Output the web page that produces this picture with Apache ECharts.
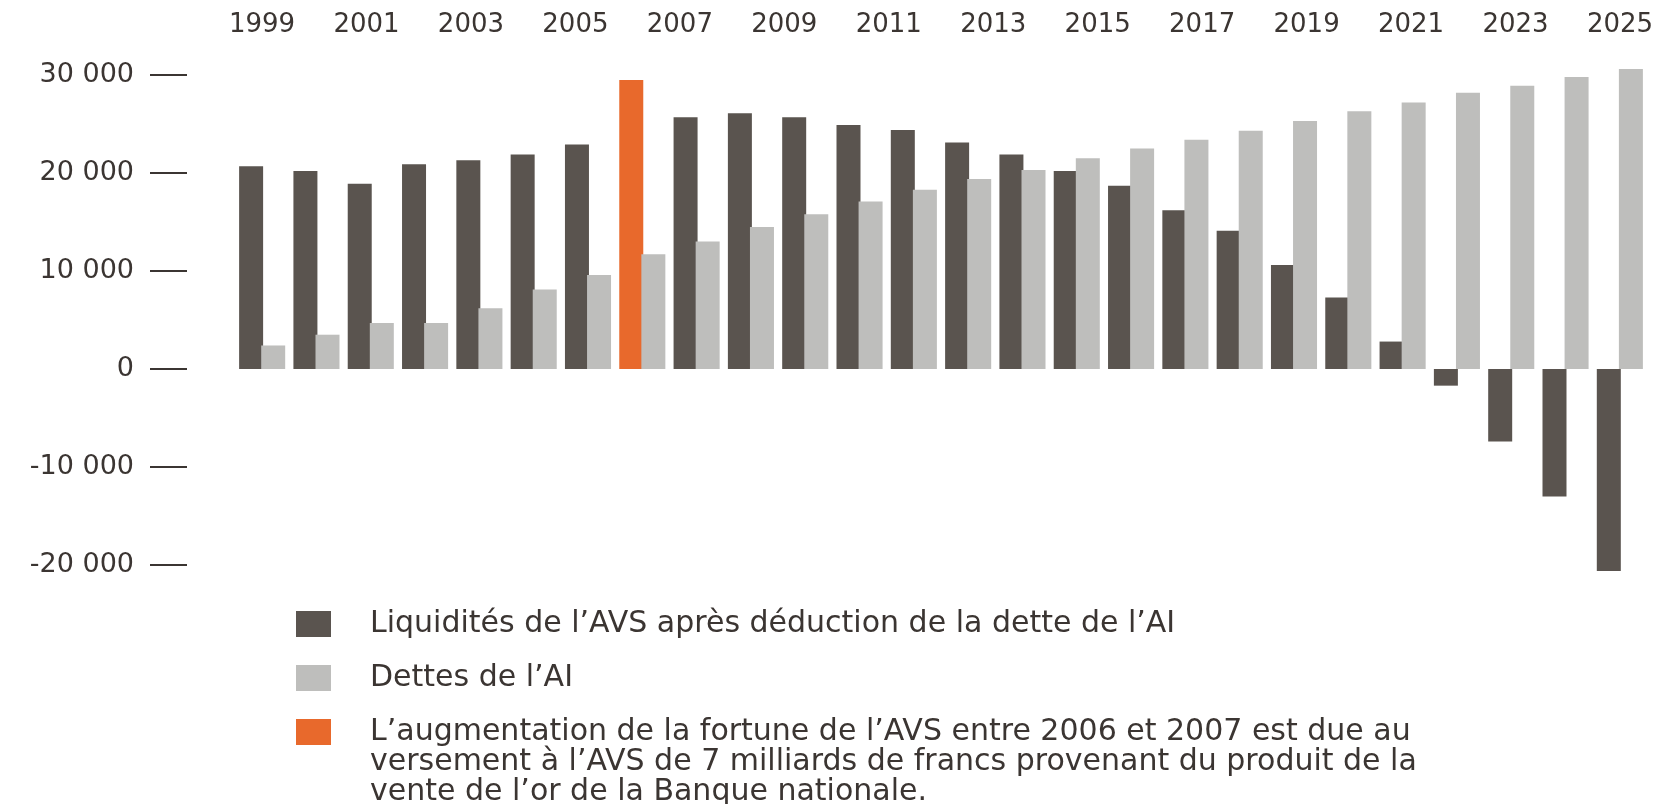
<!DOCTYPE html>
<html>
<head>
<meta charset="utf-8">
<title>Liquidités de l'AVS et dettes de l'AI</title>
<script src="https://cdn.jsdelivr.net/npm/echarts@6/dist/echarts.min.js"></script>
<style>
    html, body { margin: 0; padding: 0; background: #fff; }
    #chart { width: 1665px; height: 804px; }
</style>
</head>
<body>
<div id="chart"></div>
<script>
// une paire de barres par année
var annees = [2000, 2001, 2002, 2003, 2004, 2005, 2006, 2007, 2008, 2009, 2010, 2011, 2012,
    2013, 2014, 2015, 2016, 2017, 2018, 2019, 2020, 2021, 2022, 2023, 2024, 2025];
// étiquettes affichées en haut
var etiquettesAnnees = ['1999', '2001', '2003', '2005', '2007', '2009', '2011', '2013',
    '2015', '2017', '2019', '2021', '2023', '2025'];
// liquidités de l'AVS après déduction de la dette de l'AI (mio de francs)
var liquidites = [20700, 20200, 18900, 20900, 21300, 21900, 22900, 29500, 25700, 26100, 25700, 24900, 24400,
    23100, 21900, 20200, 18700, 16200, 14100, 10600, 7300, 2800, -1700, -7400, -13000, -20600];
// dettes de l'AI
var dettesAI = [2400, 3500, 4700, 4700, 6200, 8100, 9600, 11700, 13000, 14500, 15800, 17100, 18300,
    19400, 20300, 21500, 22500, 23400, 24300, 25300, 26300, 27200, 28200, 28900, 29800, 30600];
// année du versement de l'or de la BNS (barre orange)
var anneeOr = 2007;
// axe vertical
var yMin = -20000, yMax = 30000, yPas = 10000;

var nomLiq = 'Liquidités de l’AVS après déduction de la dette de l’AI';
var nomDettes = 'Dettes de l’AI';
var nomOr = 'L’augmentation de la fortune de l’AVS entre 2006 et 2007 est due au\n' +
    'versement à l’AVS de 7 milliards de francs provenant du produit de la\n' +
    'vente de l’or de la Banque nationale.';

var couleurFonce = '#5a544f';
var couleurClair = '#bebebc';
var couleurOrange = '#e8692c';
var couleurTexte = '#3b3532';
var police = 'DejaVu Sans';

// la barre orange remplace la barre foncée de l'année du versement
var dataFonce = liquidites.map(function(v, i) { return annees[i] === anneeOr ? '-' : v; });
var dataOrange = liquidites.map(function(v, i) { return annees[i] === anneeOr ? v : '-'; });

function milliers(v) {
    return String(v).replace(/\B(?=(\d{3})+(?!\d))/g, ' ');
}

var legendeCommun = {
    orient: 'vertical',
    left: 296,
    padding: 0,
    itemWidth: 35,
    itemHeight: 26,
    icon: 'rect'
};
var styleLigne = {
    fontFamily: police,
    fontSize: 30,
    lineHeight: 30,
    color: couleurTexte
};

var myChart = echarts.init(document.getElementById('chart'));
var option = {
    animation: false,
    backgroundColor: '#fff',
    grid: [{
        left: 235, top: 75, width: 1412, height: 490, outerBoundsMode: 'none'
    }, {
        // grille des étiquettes d'années en haut
        left: 262, top: 25, width: 1358, height: 1, outerBoundsMode: 'none'
    }],
    xAxis: [{
        gridIndex: 0,
        type: 'category',
        data: annees,
        show: false
    }, {
        gridIndex: 1,
        type: 'category',
        data: etiquettesAnnees,
        boundaryGap: false,
        position: 'top',
        axisLine: { show: false },
        axisTick: { show: false },
        axisLabel: {
            interval: 0,
            margin: 0,
            verticalAlign: 'middle',
            fontFamily: police,
            fontSize: 26,
            color: couleurTexte
        }
    }],
    yAxis: [{
        gridIndex: 0,
        type: 'value',
        min: yMin,
        max: yMax,
        interval: yPas,
        offset: 48,
        axisLine: { show: false },
        axisTick: { show: true, length: 37, lineStyle: { color: couleurTexte, width: 2 } },
        splitLine: { show: false },
        axisLabel: {
            margin: 53,
            fontFamily: police,
            fontSize: 27,
            color: couleurTexte,
            formatter: milliers
        }
    }, {
        gridIndex: 1,
        type: 'value',
        show: false
    }],
    legend: [
        echarts.util.extend({
            top: 609,
            itemGap: 24,
            textStyle: echarts.util.extend({ padding: [0, 0, 0, 34] }, styleLigne),
            data: [nomLiq, nomDettes]
        }, legendeCommun),
        // texte sur 3 lignes (texte riche) : le padding du haut aligne la 1re ligne sur le carré
        echarts.util.extend({
            top: 717,
            height: 200,
            itemGap: 0,
            formatter: function(name) {
                return name.split('\n').map(function(l) { return '{t|' + l + '}'; }).join('\n');
            },
            textStyle: {
                padding: [60, 0, 0, 34],
                rich: { t: styleLigne }
            },
            data: [nomOr]
        }, legendeCommun)
    ],
    series: [{
        name: nomLiq,
        type: 'bar',
        stack: 'liq',
        barWidth: 24,
        barGap: '-8%',
        clip: false,
        itemStyle: { color: couleurFonce },
        data: dataFonce
    }, {
        name: nomOr,
        type: 'bar',
        stack: 'liq',
        barWidth: 24,
        barGap: '-8%',
        clip: false,
        itemStyle: { color: couleurOrange },
        data: dataOrange
    }, {
        name: nomDettes,
        type: 'bar',
        barWidth: 24,
        barGap: '-8%',
        clip: false,
        itemStyle: { color: couleurClair },
        data: dettesAI
    }]
};
myChart.setOption(option);
</script>
</body>
</html>
